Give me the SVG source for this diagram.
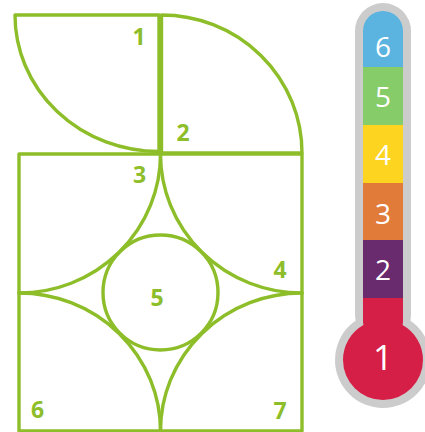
<svg xmlns="http://www.w3.org/2000/svg" width="425" height="432" viewBox="0 0 425 432">
<style>
.ln{fill:none;stroke:#8dbe2a;stroke-width:3.4;stroke-linejoin:round;stroke-linecap:round}
.lb{font-family:"Open Sans","Noto Sans",sans-serif;font-weight:700;font-size:23px;fill:#8dbe2a;text-anchor:middle}
.tl{font-family:"Open Sans","Noto Sans",sans-serif;font-weight:400;font-size:28px;fill:#ffffff;text-anchor:middle}
</style>
<defs>
<clipPath id="inner">
<rect x="363" y="11" width="40" height="330" rx="20"/>
<circle cx="383" cy="360" r="40"/>
</clipPath>
</defs>
<g id="puzzle">
<g id="piece1"><path class="ln" d="M15 15 L159 15 L159 151.5 A144 136.5 0 0 1 15 15 Z"/><text class="lb" x="139" y="45">1</text></g>
<g id="piece2"><path class="ln" d="M161.5 15 A140.5 138 0 0 1 302 153 L161.5 153 Z"/><text class="lb" x="183" y="141">2</text></g>
<g id="square"><rect class="ln" x="19" y="154" width="283" height="277"/></g>
<g id="piece3"><path class="ln" d="M160.5 154 A141.5 139 0 0 1 19 293"/><text class="lb" x="139.5" y="183">3</text></g>
<g id="piece4"><path class="ln" d="M160.5 154 A141.5 139 0 0 0 302 293"/><text class="lb" x="280" y="278">4</text></g>
<g id="piece6"><path class="ln" d="M19 293 A141.5 138 0 0 1 160.5 431"/><text class="lb" x="37.5" y="418">6</text></g>
<g id="piece7"><path class="ln" d="M302 293 A141.5 138 0 0 0 160.5 431"/><text class="lb" x="280" y="419">7</text></g>
<g id="piece5"><circle class="ln" cx="160.5" cy="292.5" r="57.5"/><text class="lb" x="157" y="306">5</text></g>
</g>
<g id="thermometer">
<rect x="355" y="3" width="56" height="340" rx="28" fill="#cccccc"/>
<circle cx="383" cy="360" r="48" fill="#cccccc"/>
<g clip-path="url(#inner)">
<rect x="340" y="0" width="90" height="67" fill="#5bb3e0"/>
<rect x="340" y="67" width="90" height="58" fill="#86cc68"/>
<rect x="340" y="125" width="90" height="58" fill="#fdd520"/>
<rect x="340" y="183" width="90" height="57" fill="#e07b3a"/>
<rect x="340" y="240" width="90" height="58" fill="#6a2a6e"/>
<rect x="340" y="298" width="90" height="120" fill="#d61f46"/>
</g>
<text class="tl" x="383" y="57">6</text>
<text class="tl" x="383" y="107">5</text>
<text class="tl" x="383" y="165">4</text>
<text class="tl" x="383" y="224">3</text>
<text class="tl" x="383" y="280">2</text>
<text class="tl" x="383" y="370" style="font-size:35px">1</text>
</g>
</svg>
